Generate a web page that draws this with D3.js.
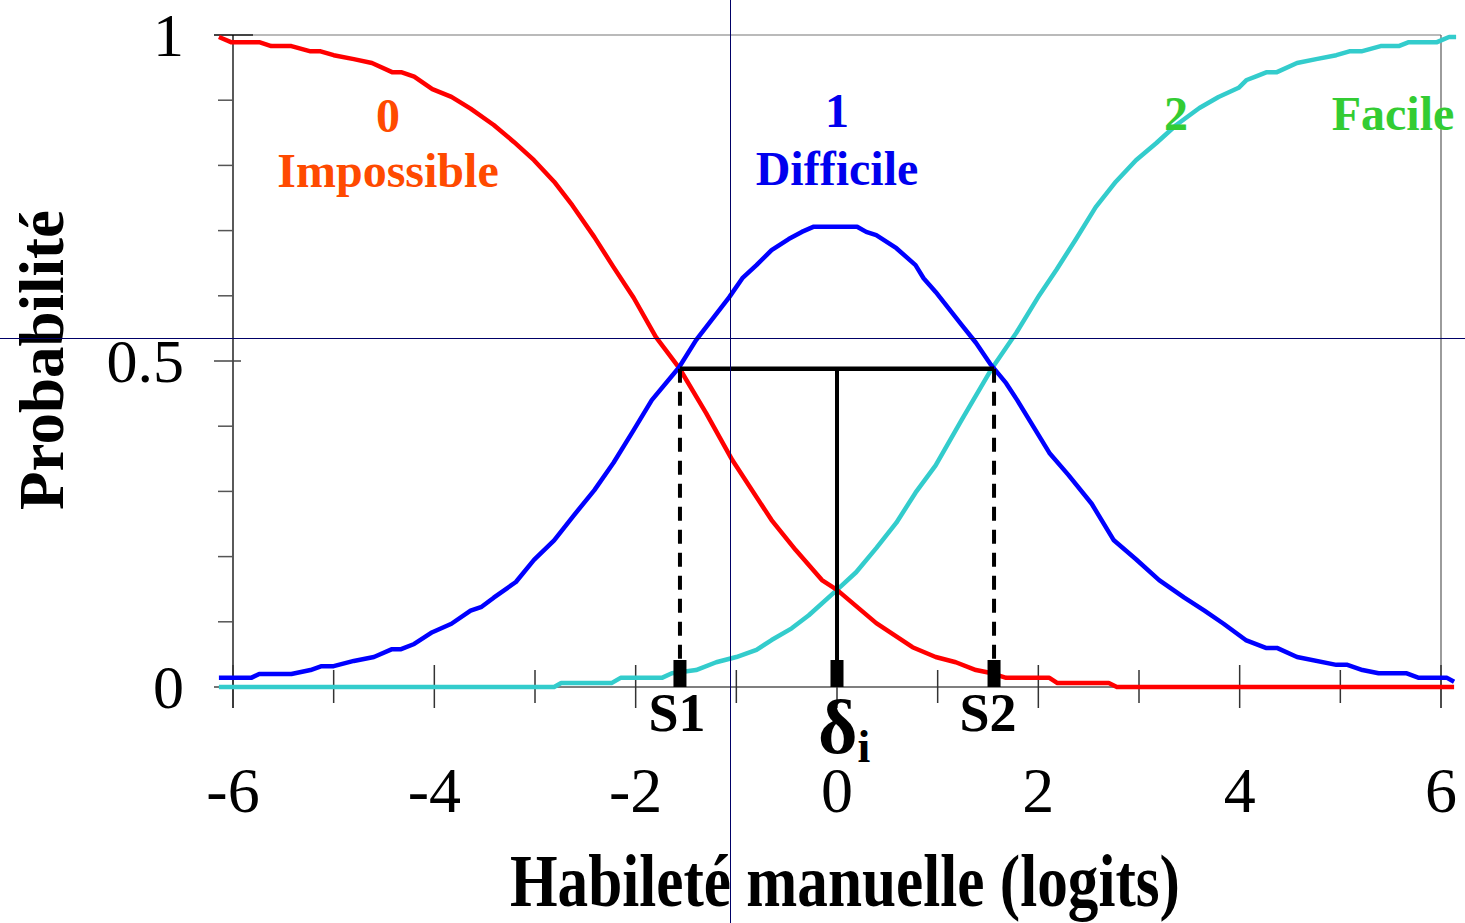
<!DOCTYPE html>
<html>
<head>
<meta charset="utf-8">
<script src="https://cdn.jsdelivr.net/npm/d3@7"></script>
<style>
  html, body { margin: 0; padding: 0; background: #fff; }
  svg { display: block; }
  text { font-family: "Liberation Serif", "Times New Roman", serif; }
</style>
</head>
<body>
<svg id="chart" width="1465" height="923"></svg>
<script>
// Category response curves (partial credit model, 3 categories), logits vs probability
const curveImpossible = [
  [-6.14,0.997],[-6.02,0.989],[-5.74,0.989],[-5.62,0.983],[-5.42,0.983],[-5.23,0.975],[-5.13,0.975],
  [-5.00,0.969],[-4.80,0.963],[-4.62,0.957],[-4.42,0.943],[-4.33,0.943],[-4.20,0.936],[-4.02,0.917],
  [-3.83,0.905],[-3.64,0.887],[-3.41,0.862],[-3.21,0.836],[-3.01,0.808],[-2.81,0.775],[-2.63,0.739],
  [-2.41,0.690],[-2.22,0.644],[-2.02,0.597],[-1.80,0.537],[-1.57,0.490],[-1.30,0.420],[-1.04,0.348],
  [-0.65,0.256],[-0.41,0.210],[-0.15,0.164],[0.00,0.149],[0.39,0.098],[0.75,0.061],[0.98,0.046],
  [1.18,0.038],[1.38,0.026],[1.54,0.021],[1.68,0.014],[2.11,0.014],[2.19,0.006],[2.70,0.006],
  [2.78,0.000],[6.13,0.000]
];
const curveDifficile = [
  [-6.14,0.014],[-5.82,0.014],[-5.74,0.020],[-5.42,0.020],[-5.23,0.026],[-5.12,0.032],[-5.00,0.032],
  [-4.80,0.040],[-4.60,0.046],[-4.42,0.058],[-4.33,0.058],[-4.20,0.066],[-4.02,0.084],[-3.83,0.097],
  [-3.64,0.117],[-3.53,0.123],[-3.41,0.137],[-3.19,0.161],[-3.01,0.195],[-2.81,0.225],[-2.61,0.264],
  [-2.41,0.302],[-2.22,0.344],[-2.02,0.394],[-1.84,0.440],[-1.57,0.490],[-1.40,0.532],[-1.07,0.598],
  [-0.94,0.627],[-0.80,0.647],[-0.65,0.670],[-0.48,0.687],[-0.35,0.698],[-0.23,0.706],[0.20,0.706],
  [0.29,0.698],[0.39,0.693],[0.59,0.673],[0.78,0.647],[0.86,0.627],[0.98,0.606],[1.24,0.555],
  [1.38,0.528],[1.53,0.494],[1.68,0.466],[1.79,0.440],[2.11,0.359],[2.30,0.325],[2.53,0.281],
  [2.75,0.225],[2.97,0.196],[3.20,0.164],[3.45,0.137],[3.65,0.117],[3.84,0.097],[4.06,0.072],
  [4.26,0.060],[4.37,0.060],[4.57,0.046],[4.96,0.034],[5.07,0.034],[5.22,0.026],[5.38,0.021],
  [5.66,0.021],[5.78,0.014],[6.06,0.014],[6.13,0.008]
];
const curveFacile = [
  [-6.14,0.000],[-2.81,0.000],[-2.74,0.006],[-2.24,0.006],[-2.15,0.014],[-1.74,0.014],[-1.64,0.021],
  [-1.40,0.026],[-1.20,0.038],[-1.00,0.046],[-0.80,0.057],[-0.65,0.072],[-0.45,0.090],[-0.28,0.110],
  [0.00,0.149],[0.19,0.176],[0.39,0.213],[0.59,0.252],[0.78,0.298],[0.98,0.340],[1.24,0.410],
  [1.54,0.489],[1.78,0.543],[2.01,0.601],[2.18,0.640],[2.37,0.686],[2.57,0.736],[2.77,0.775],
  [2.97,0.808],[3.17,0.834],[3.37,0.862],[3.60,0.888],[3.79,0.905],[3.99,0.919],[4.07,0.931],
  [4.17,0.937],[4.27,0.943],[4.37,0.943],[4.57,0.957],[4.76,0.963],[4.96,0.969],[5.09,0.975],
  [5.21,0.975],[5.40,0.983],[5.58,0.983],[5.68,0.989],[5.96,0.989],[6.08,0.997],[6.15,0.997]
];

// Axis ticks and labels
const xMajorTicks = [-6, -4, -2, 0, 2, 4, 6];
const xMinorTicks = [-5, -3, -1, 1, 3, 5];
const yMinorTicks = [0.1, 0.2, 0.3, 0.4, 0.6, 0.7, 0.8, 0.9];
const yLabelTicks = [0, 0.5, 1];
const yLabelText = ["0", "0.5", "1"];

// Thresholds and item difficulty
const thresholdS1 = -1.56;
const thresholdS2 = 1.56;
const deltaI = 0;
const crossingProb = 0.488;

// Category labels
const categoryNumbers = ["0", "1", "2"];
const categoryNames = ["Impossible", "Difficile", "Facile"];

// Crosshair guide position
const guideX = -1.06;
const guideY = 0.535;

const svg = d3.select("#chart");
const W = 1465, H = 923;

const x = d3.scaleLinear().domain([-6, 6]).range([233, 1441]);
const y = d3.scaleLinear().domain([0, 1]).range([687, 35]);

const serif = '"Liberation Serif", "Times New Roman", serif';

// Frame: top and right borders in grey
svg.append("line").attr("x1", x(-6) - 19).attr("x2", x(6)).attr("y1", y(1)).attr("y2", y(1))
  .attr("stroke", "#777").attr("stroke-width", 1.2);
svg.append("line").attr("x1", x(-6) - 19).attr("x2", x(-6) + 20).attr("y1", y(1)).attr("y2", y(1))
  .attr("stroke", "#444").attr("stroke-width", 2);
svg.append("line").attr("x1", x(6)).attr("x2", x(6)).attr("y1", y(1)).attr("y2", y(0) + 21)
  .attr("stroke", "#666").attr("stroke-width", 1.3);

// Y axis
svg.append("line").attr("x1", x(-6)).attr("x2", x(-6)).attr("y1", y(1)).attr("y2", y(0) + 21)
  .attr("stroke", "#000").attr("stroke-width", 1.3);
svg.selectAll(".ytick").data(yMinorTicks).enter().append("line")
  .attr("x1", x(-6) - 15).attr("x2", x(-6)).attr("y1", d => y(d)).attr("y2", d => y(d))
  .attr("stroke", "#555").attr("stroke-width", 1.5);
svg.append("line").attr("x1", x(-6) - 19).attr("x2", x(-6) + 8).attr("y1", y(0.5)).attr("y2", y(0.5))
  .attr("stroke", "#444").attr("stroke-width", 1.5);
svg.append("line").attr("x1", x(-6) - 19).attr("x2", x(-6)).attr("y1", y(0)).attr("y2", y(0))
  .attr("stroke", "#444").attr("stroke-width", 1.5);
svg.selectAll(".ylab").data(yLabelTicks).enter().append("text")
  .attr("x", 184).attr("y", d => y(d)).attr("dy", "0.34em")
  .attr("text-anchor", "end").attr("font-size", 62).attr("font-family", serif)
  .text((d, i) => yLabelText[i]);

// X axis
svg.append("line").attr("x1", x(-6)).attr("x2", x(6)).attr("y1", y(0)).attr("y2", y(0))
  .attr("stroke", "#000").attr("stroke-width", 1.2);
svg.selectAll(".xmaj").data(xMajorTicks).enter().append("line")
  .attr("x1", d => x(d)).attr("x2", d => x(d)).attr("y1", y(0) - 22).attr("y2", y(0) + 21)
  .attr("stroke", "#333").attr("stroke-width", 1.5);
svg.selectAll(".xmin").data(xMinorTicks).enter().append("line")
  .attr("x1", d => x(d)).attr("x2", d => x(d)).attr("y1", y(0) - 17).attr("y2", y(0) + 16)
  .attr("stroke", "#333").attr("stroke-width", 1.5);
svg.selectAll(".xlab").data(xMajorTicks).enter().append("text")
  .attr("x", d => x(d)).attr("y", 812).attr("text-anchor", "middle")
  .attr("font-size", 64).attr("font-family", serif)
  .text(d => d);

// Category curves
const line = d3.line().x(d => x(d[0])).y(d => y(d[1]));
const curves = [
  { data: curveFacile, color: "#33CCCC" },
  { data: curveImpossible, color: "#FF0000" },
  { data: curveDifficile, color: "#0000FF" }
];
curves.forEach(c => {
  svg.append("path").datum(c.data).attr("d", line)
    .attr("fill", "none").attr("stroke", c.color).attr("stroke-width", 4.5)
    .attr("stroke-linejoin", "round");
});

// Threshold construction
svg.append("line").attr("x1", x(thresholdS1)).attr("x2", x(thresholdS2))
  .attr("y1", y(crossingProb)).attr("y2", y(crossingProb))
  .attr("stroke", "#000").attr("stroke-width", 4.5);
svg.append("line").attr("x1", x(deltaI)).attr("x2", x(deltaI))
  .attr("y1", y(crossingProb)).attr("y2", y(0))
  .attr("stroke", "#000").attr("stroke-width", 4);
[thresholdS1, thresholdS2].forEach(t => {
  svg.append("line").attr("x1", x(t)).attr("x2", x(t))
    .attr("y1", y(crossingProb)).attr("y2", y(0))
    .attr("stroke", "#000").attr("stroke-width", 4).attr("stroke-dasharray", "14 9");
});
[thresholdS1, deltaI, thresholdS2].forEach(t => {
  svg.append("rect").attr("x", x(t) - 6.5).attr("y", y(0) - 27).attr("width", 13).attr("height", 27)
    .attr("fill", "#000");
});

// Threshold labels
svg.append("text").attr("x", x(thresholdS1) - 3).attr("y", 731).attr("text-anchor", "middle")
  .attr("font-size", 54).attr("font-weight", "bold").attr("font-family", serif).text("S1");
svg.append("text").attr("x", x(thresholdS2) - 6).attr("y", 731).attr("text-anchor", "middle")
  .attr("font-size", 54).attr("font-weight", "bold").attr("font-family", serif).text("S2");
const dl = svg.append("text").attr("x", x(deltaI) - 19).attr("y", 753)
  .attr("font-size", 76).attr("font-weight", "bold").attr("font-family", serif);
dl.append("tspan").text("δ");
dl.append("tspan").attr("font-size", 46).attr("dy", 9).text("i");

// Category labels
const catColors = ["#FF4A00", "#0000EE", "#33CC33"];
svg.append("text").attr("x", 388).attr("y", 132).attr("text-anchor", "middle")
  .attr("font-size", 48).attr("font-weight", "bold").attr("fill", catColors[0]).attr("font-family", serif)
  .text(categoryNumbers[0]);
svg.append("text").attr("x", 388).attr("y", 187).attr("text-anchor", "middle")
  .attr("font-size", 48).attr("font-weight", "bold").attr("fill", catColors[0]).attr("font-family", serif)
  .text(categoryNames[0]);
svg.append("text").attr("x", 837).attr("y", 127).attr("text-anchor", "middle")
  .attr("font-size", 48).attr("font-weight", "bold").attr("fill", catColors[1]).attr("font-family", serif)
  .text(categoryNumbers[1]);
svg.append("text").attr("x", 837).attr("y", 185).attr("text-anchor", "middle")
  .attr("font-size", 48).attr("font-weight", "bold").attr("fill", catColors[1]).attr("font-family", serif)
  .text(categoryNames[1]);
svg.append("text").attr("x", 1176).attr("y", 130).attr("text-anchor", "middle")
  .attr("font-size", 48).attr("font-weight", "bold").attr("fill", catColors[2]).attr("font-family", serif)
  .text(categoryNumbers[2]);
svg.append("text").attr("x", 1393).attr("y", 130).attr("text-anchor", "middle")
  .attr("font-size", 48).attr("font-weight", "bold").attr("fill", catColors[2]).attr("font-family", serif)
  .text(categoryNames[2]);

// Axis titles
svg.append("text").attr("transform", "translate(63,360) rotate(-90)")
  .attr("text-anchor", "middle").attr("font-size", 63).attr("font-weight", "bold")
  .attr("font-family", serif).text("Probabilité");
svg.append("text").attr("x", 510).attr("y", 906)
  .attr("font-size", 74).attr("font-weight", "bold").attr("font-family", serif)
  .attr("textLength", 670).attr("lengthAdjust", "spacingAndGlyphs")
  .text("Habileté manuelle (logits)");

// Crosshair guides
svg.append("line").attr("x1", x(guideX)).attr("x2", x(guideX)).attr("y1", 0).attr("y2", H)
  .attr("stroke", "#000066").attr("stroke-width", 1).attr("shape-rendering", "crispEdges");
svg.append("line").attr("x1", 0).attr("x2", W).attr("y1", y(guideY)).attr("y2", y(guideY))
  .attr("stroke", "#000066").attr("stroke-width", 1).attr("shape-rendering", "crispEdges");
</script>
</body>
</html>
